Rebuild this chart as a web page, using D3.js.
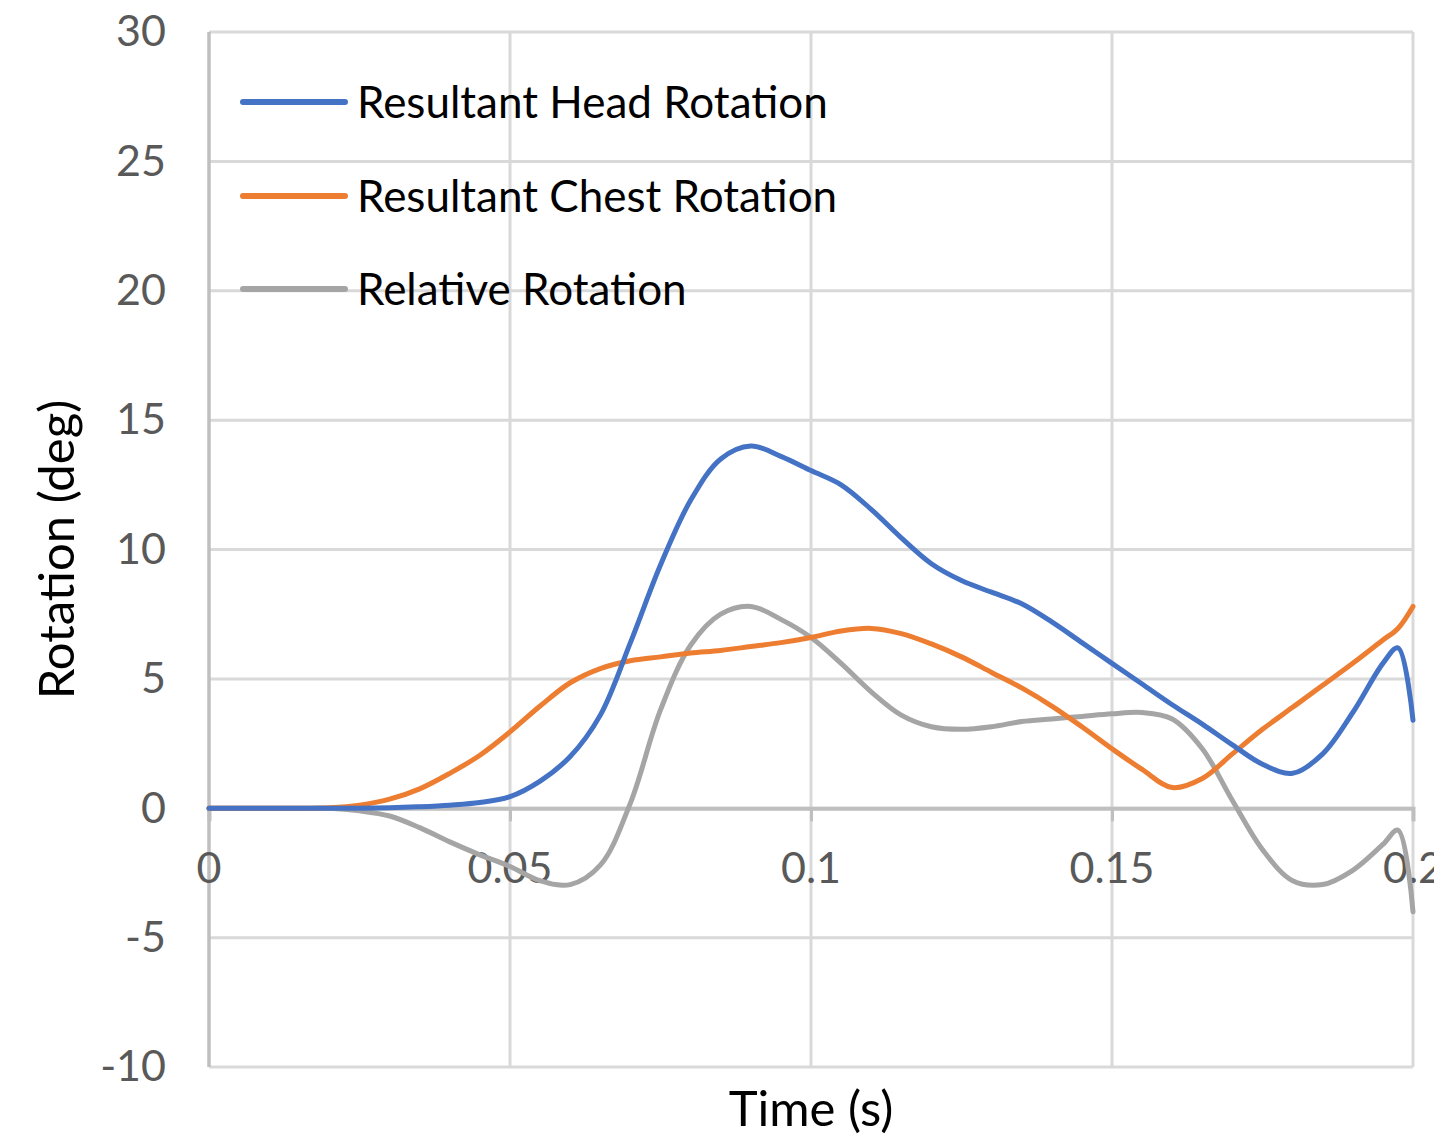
<!DOCTYPE html>
<html>
<head>
<meta charset="utf-8">
<script src="https://cdn.jsdelivr.net/npm/d3@7"></script>
<style>
  html, body { margin: 0; padding: 0; background: #fff; }
  svg { display: block; }
  text { font-family: Lato, "Open Sans", sans-serif; }
</style>
</head>
<body>
<script>
// Sample times (s)
const time = [0, 0.005, 0.01, 0.015, 0.02, 0.025, 0.03, 0.035, 0.04, 0.045,
  0.05, 0.055, 0.06, 0.065, 0.07, 0.075, 0.08, 0.085, 0.09, 0.095,
  0.1, 0.105, 0.11, 0.115, 0.12, 0.125, 0.13, 0.135, 0.14, 0.145,
  0.15, 0.155, 0.16, 0.165, 0.17, 0.175, 0.18, 0.185, 0.19, 0.195,
  0.1975, 0.2];

// Rotation (deg)
const headRotation = [0, 0, 0, 0, 0, 0, 0.02, 0.06, 0.12, 0.22,
  0.45, 1.05, 2.0, 3.6, 6.4, 9.4, 11.9, 13.5, 14.0, 13.6,
  13.05, 12.5, 11.55, 10.45, 9.45, 8.8, 8.35, 7.9, 7.2, 6.4,
  5.6, 4.8, 4.0, 3.25, 2.45, 1.7, 1.35, 2.1, 3.7, 5.6,
  6.2, 3.4];

const chestRotation = [0, 0, 0, 0, 0.02, 0.12, 0.35, 0.75, 1.35, 2.05,
  2.95, 3.95, 4.85, 5.4, 5.7, 5.85, 6.0, 6.1, 6.25, 6.4,
  6.6, 6.85, 6.95, 6.75, 6.35, 5.85, 5.25, 4.65, 3.95, 3.15,
  2.3, 1.5, 0.8, 1.15, 2.1, 3.05, 3.9, 4.75, 5.6, 6.5,
  6.95, 7.8];

const relativeRotation = [0, 0, 0, 0, 0, -0.1, -0.3, -0.75, -1.3, -1.8,
  -2.25, -2.8, -2.95, -2.2, 0.2, 3.8, 6.3, 7.5, 7.8, 7.3,
  6.6, 5.6, 4.5, 3.6, 3.15, 3.05, 3.15, 3.35, 3.45, 3.55,
  3.65, 3.7, 3.45, 2.3, 0.3, -1.6, -2.8, -2.95, -2.4, -1.4,
  -0.85, -4.0];

const seriesNames = ["Resultant Head Rotation", "Resultant Chest Rotation", "Relative Rotation"];
const seriesColors = ["#4472C4", "#ED7D31", "#A5A5A5"];
const seriesValues = [headRotation, chestRotation, relativeRotation];

const xTicks = [0, 0.05, 0.1, 0.15, 0.2];
const yTicks = [-10, -5, 0, 5, 10, 15, 20, 25, 30];
const xTickLabels = ["0", "0.05", "0.1", "0.15", "0.2"];
const yTickLabels = ["-10", "-5", "0", "5", "10", "15", "20", "25", "30"];

const W = 1434, H = 1139;
const margin = { left: 209, right: 21, top: 32, bottom: 72 };

const svg = d3.select("body").append("svg")
  .attr("width", W).attr("height", H);

const x = d3.scaleLinear().domain([0, 0.2]).range([margin.left, W - margin.right]);
const y = d3.scaleLinear().domain([-10, 30]).range([H - margin.bottom, margin.top]);

// Gridlines
const grid = svg.append("g");
grid.selectAll("line.h").data(yTicks).join("line")
  .attr("x1", x(0)).attr("x2", x(0.2))
  .attr("y1", d => y(d)).attr("y2", d => y(d))
  .attr("stroke", "#d9d9d9").attr("stroke-width", 3);
grid.selectAll("line.v").data(xTicks.slice(1)).join("line")
  .attr("x1", d => x(d)).attr("x2", d => x(d))
  .attr("y1", y(30)).attr("y2", y(-10))
  .attr("stroke", "#d9d9d9").attr("stroke-width", 3);

// Vertical axis line
svg.append("line")
  .attr("x1", x(0)).attr("x2", x(0))
  .attr("y1", y(30)).attr("y2", y(-10))
  .attr("stroke", "#bfbfbf").attr("stroke-width", 3.5);

// Horizontal axis at zero, with outward tick marks
const xAxis = d3.axisBottom(x).tickValues(xTicks).tickSize(13).tickFormat("");
const xg = svg.append("g").attr("transform", `translate(0,${y(0)})`).call(xAxis);
xg.select(".domain").attr("stroke", "#bfbfbf").attr("stroke-width", 4);
xg.selectAll(".tick line").attr("stroke", "#bfbfbf").attr("stroke-width", 3);

// X tick labels just below the zero line
svg.append("g").selectAll("text").data(xTicks).join("text")
  .attr("x", d => x(d)).attr("y", y(0) + 75)
  .attr("text-anchor", "middle")
  .attr("font-size", 43).attr("fill", "#595959")
  .text((d, i) => xTickLabels[i]);

// Y tick labels
const yAxis = d3.axisLeft(y).tickValues(yTicks).tickSize(0).tickPadding(43)
  .tickFormat((d, i) => yTickLabels[i]);
const yg = svg.append("g").attr("transform", `translate(${x(0)},0)`).call(yAxis);
yg.select(".domain").remove();
yg.selectAll(".tick text")
  .attr("font-size", 43).attr("fill", "#595959")
  .attr("font-family", "Lato, 'Open Sans', sans-serif");

// Series lines
const line = d3.line()
  .x((d, i) => x(time[i]))
  .y(d => y(d))
  .curve(d3.curveCatmullRom.alpha(0.5));

const plot = svg.append("g");
[2, 1, 0].forEach(k => {
  plot.append("path")
    .datum(seriesValues[k])
    .attr("d", line)
    .attr("fill", "none")
    .attr("stroke", seriesColors[k])
    .attr("stroke-width", 5)
    .attr("stroke-linejoin", "round")
    .attr("stroke-linecap", "round");
});

// Legend
const legend = svg.append("g");
const legendY = [102, 196, 289];
seriesNames.forEach((name, i) => {
  legend.append("line")
    .attr("x1", 243).attr("x2", 345)
    .attr("y1", legendY[i]).attr("y2", legendY[i])
    .attr("stroke", seriesColors[i]).attr("stroke-width", 6)
    .attr("stroke-linecap", "round");
  legend.append("text")
    .attr("x", 357).attr("y", legendY[i] + 16)
    .attr("font-size", 44).attr("fill", "#000")
    .text(name);
});

// Axis titles
svg.append("text")
  .attr("transform", `translate(74,${(y(30) + y(-10)) / 2}) rotate(-90)`)
  .attr("text-anchor", "middle")
  .attr("font-size", 49).attr("fill", "#000")
  .text("Rotation (deg)");

svg.append("text")
  .attr("x", (x(0) + x(0.2)) / 2).attr("y", 1126)
  .attr("text-anchor", "middle")
  .attr("font-size", 49).attr("fill", "#000")
  .text("Time (s)");
</script>
</body>
</html>
